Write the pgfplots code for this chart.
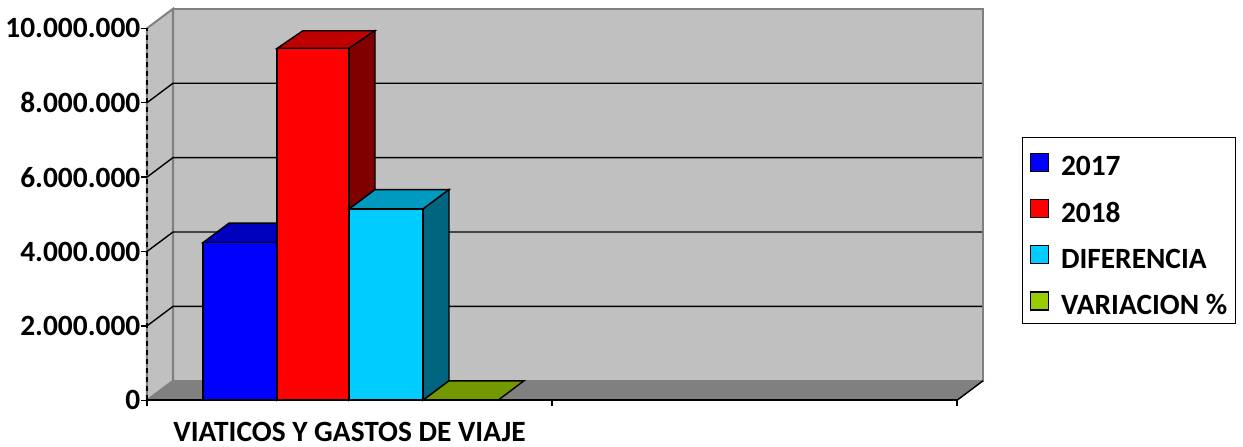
\documentclass[border=0pt]{standalone}
\usepackage{fontspec}
\setmainfont{Carlito}
\usepackage{pgfplots}
\pgfplotsset{compat=1.18}
\definecolor{wall}{HTML}{C0C0C0}
\definecolor{floorc}{HTML}{808080}
\definecolor{blueT}{HTML}{0000BF}
\definecolor{blueS}{HTML}{000080}
\definecolor{redT}{HTML}{BF0000}
\definecolor{redS}{HTML}{800000}
\definecolor{cyanF}{HTML}{00CCFF}
\definecolor{cyanT}{HTML}{0099BF}
\definecolor{cyanS}{HTML}{006680}
\definecolor{greenF}{HTML}{99CC00}
\definecolor{greenT}{HTML}{739900}
\newcommand{\chartfont}{\fontsize{29.4}{29.4}\selectfont\bfseries}
\pgfplotsset{
  swatch/.style={legend image code/.code={\path[draw=none,fill=none] (0pt,-1pt) rectangle (18pt,17pt);\draw[##1,draw=black,line width=1.3pt,overlay] (0pt,-8pt) rectangle (18pt,10pt);}},
  face/.style={draw=black,line width=1.4pt,line join=miter,no markers,forget plot},
  gridl/.style={draw=black,line width=1.4pt,no markers,forget plot},
}
\begin{document}
\begin{tikzpicture}[x=1pt,y=1pt]
\path[use as bounding box] (0pt,0pt) rectangle (1243pt,447pt);
\begin{axis}[
  at={(147pt,46.7pt)}, anchor=south west,
  scale only axis, width=810pt, height=372pt,
  xmin=147, xmax=957, ymin=0, ymax=10000000,
  clip=false, axis on top,
  axis x line*=bottom, axis y line*=left,
  x axis line style={black,line width=1.6pt},
  y axis line style={black,line width=1.8pt,dash pattern=on 5pt off 4pt},
  tick align=outside, major tick length=6pt,
  tick style={black,line width=1.5pt},
  xtick={147,552,957}, xticklabels={},
  extra x ticks={349.5},
  extra x tick labels={VIATICOS Y GASTOS DE VIAJE},
  extra x tick style={tick style={draw=none}},
  ytick={0,2000000,4000000,6000000,8000000,10000000},
  scaled y ticks=false,
  /pgf/number format/.cd, fixed, 1000 sep={.}, assume math mode=true,
  /pgfplots/.cd,
  tick label style={font=\chartfont,text=black},
  yticklabel style={inner xsep=0pt,xshift=-0.5pt},
  xticklabel style={inner ysep=0pt,yshift=-16pt},
  legend cell align=left,
  legend style={
    at={(axis cs:1021.7,7078000)}, anchor=north west,
    draw=black, line width=1.4pt, fill=white, font=\chartfont,
    inner xsep=8pt, inner ysep=8.5pt,
    row sep=16.1pt, column sep=12.6pt,
    nodes={inner sep=0pt,text height=26pt,text depth=0.4pt},
  },
]
% back wall, side wall, floor
\addplot[fill=wall,draw=floorc,line width=2pt,no markers,forget plot] coordinates {(173,524000)(983,524000)(983,10524000)(173,10524000)} -- cycle;
\addplot[fill=wall,draw=floorc,line width=2pt,no markers,forget plot] coordinates {(147,0)(173,524000)(173,10524000)(147,10000000)} -- cycle;
\addplot[fill=floorc,draw=floorc,line width=1pt,no markers,forget plot] coordinates {(147,0)(957,0)(983,524000)(173,524000)} -- cycle;
\addplot[draw=black,line width=1.4pt,no markers,forget plot] coordinates {(957,0)(983,524000)};
% gridlines on the walls
\addplot[gridl] coordinates {(147,2000000)(173,2524000)(982,2524000)};
\addplot[gridl] coordinates {(147,4000000)(173,4524000)(982,4524000)};
\addplot[gridl] coordinates {(147,6000000)(173,6524000)(982,6524000)};
\addplot[gridl] coordinates {(147,8000000)(173,8524000)(982,8524000)};
% 2017
\addplot[face,fill=blueT] coordinates {(203,4240000)(277,4240000)(303,4764000)(229,4764000)} -- cycle;
\addplot[face,fill=blueS] coordinates {(277,0)(303,524000)(303,4764000)(277,4240000)} -- cycle;
\addplot[face,ybar,bar width=74pt,bar shift=0pt,fill=blue] coordinates {(240,4240000)};
% 2018
\addplot[face,fill=redT] coordinates {(277,9460000)(349,9460000)(375,9935000)(303,9935000)} -- cycle;
\addplot[face,fill=redS] coordinates {(349,0)(375,524000)(375,9935000)(349,9460000)} -- cycle;
\addplot[face,ybar,bar width=72pt,bar shift=0pt,fill=red] coordinates {(313,9460000)};
% DIFERENCIA
\addplot[face,fill=cyanT] coordinates {(349,5140000)(423,5140000)(449,5664000)(375,5664000)} -- cycle;
\addplot[face,fill=cyanS] coordinates {(423,0)(449,524000)(449,5664000)(423,5140000)} -- cycle;
\addplot[face,ybar,bar width=74pt,bar shift=0pt,fill=cyanF] coordinates {(386,5140000)};
% VARIACION %
\addplot[face,fill=greenT] coordinates {(423,0)(498,0)(524,524000)(449,524000)} -- cycle;
% legend
\addlegendimage{swatch,fill=blue}
\addlegendentry{2017}
\addlegendimage{swatch,fill=red}
\addlegendentry{2018}
\addlegendimage{swatch,fill=cyanF}
\addlegendentry{DIFERENCIA}
\addlegendimage{swatch,fill=greenF}
\addlegendentry{VARIACION \%}
\end{axis}
\end{tikzpicture}
\end{document}
